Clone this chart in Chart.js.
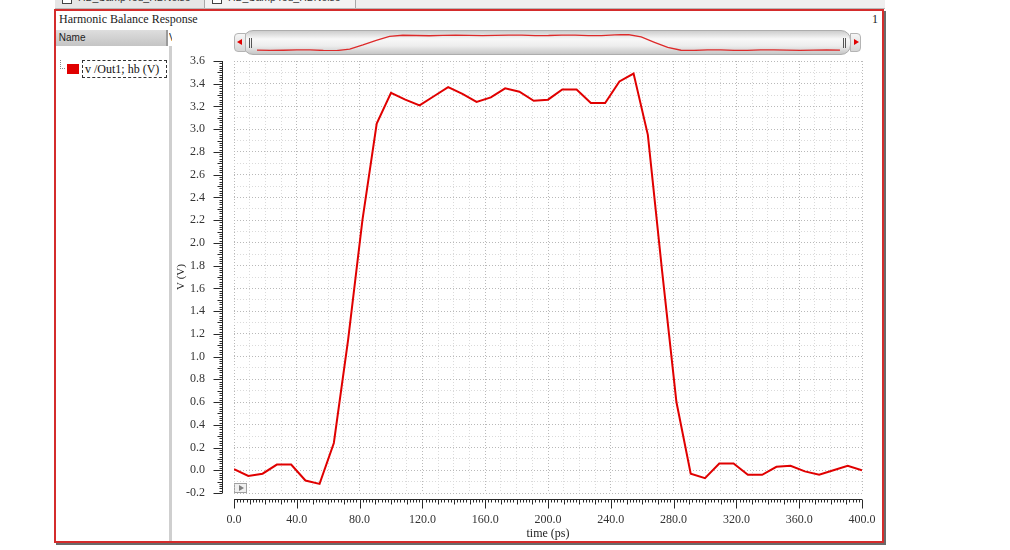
<!DOCTYPE html>
<html>
<head>
<meta charset="utf-8">
<title>Harmonic Balance Response</title>
<script src="https://cdn.jsdelivr.net/npm/chart.js@4.4.1/dist/chart.umd.min.js"></script>
<style>
  body { margin: 0; width: 1010px; height: 550px; background: #fff; overflow: hidden; position: relative; font-family: "Liberation Serif", serif; }
  .abs { position: absolute; }
  #tabs { left: 55px; top: 0; width: 830px; height: 8px; background: #efefef; border-bottom: 1px solid #b8b8b8; overflow: hidden; }
  .tab { position: absolute; top: 0; height: 8px; border-right: 1px solid #a8a8a8; overflow: hidden; font: 10.5px "Liberation Sans", sans-serif; color: #333; }
  .tab .ic { position: absolute; left: 7px; top: -6px; width: 8px; height: 8px; border: 1px solid #444; background: #fff; }
  .tab .tx { position: absolute; left: 23px; top: -9px; white-space: nowrap; }
  .tab .x { position: absolute; top: -10px; color: #777; }
  #frame { left: 54px; top: 9px; width: 830px; height: 534px; border: 2px solid #d42c2c; box-sizing: border-box; box-shadow: 2px 2px 0 #6a6a6a; }
  #title { left: 59px; top: 12px; font-size: 12px; color: #222; }
  #pnum { left: 872px; top: 12px; font-size: 12px; color: #222; }
  #hdr { left: 56px; top: 30px; width: 112px; height: 16px; background: linear-gradient(#dedede, #c4c4c4); font: 10px "Liberation Sans", sans-serif; color: #222; line-height: 16px; }
  #hdrsep { left: 166px; top: 30px; width: 2px; height: 16px; background: #9a9a9a; }
  #hdrv { left: 169px; top: 30px; width: 3px; height: 16px; overflow: hidden; font: 10px "Liberation Sans", sans-serif; line-height: 16px; color: #222; }
  #pdiv { left: 169px; top: 46px; width: 3px; height: 495px; background: #cfcfcf; }
  #tree { left: 60px; top: 60px; width: 4px; height: 8px; border-left: 1px dotted #888; border-bottom: 1px dotted #888; }
  #swatch { left: 67px; top: 64px; width: 12px; height: 10px; background: #e00000; }
  #lgtext { left: 82px; top: 60px; width: 85px; height: 18px; box-sizing: border-box; border: 1px dashed #333; font-size: 12px; line-height: 16px; padding-left: 2px; color: #111; white-space: nowrap; }
  #ovl { left: 234px; top: 33px; width: 12px; height: 19px; box-sizing: border-box; border: 1px solid #b4b4b4; border-radius: 4px 0 0 4px; background: linear-gradient(#f6f6f6, #d6d6d6); }
  #ovr { left: 850px; top: 33px; width: 11px; height: 19px; box-sizing: border-box; border: 1px solid #b4b4b4; border-radius: 0 4px 4px 0; background: linear-gradient(#f6f6f6, #d6d6d6); }
  .triL { position: absolute; left: 2px; top: 5px; width: 0; height: 0; border-top: 3px solid transparent; border-bottom: 3px solid transparent; border-right: 5px solid #e00000; }
  .triR { position: absolute; left: 3px; top: 5px; width: 0; height: 0; border-top: 3px solid transparent; border-bottom: 3px solid transparent; border-left: 5px solid #e00000; }
  #ov { left: 243px; top: 30px; width: 608px; height: 25px; box-sizing: border-box; border: 1px solid #adadad; border-radius: 10px; background: linear-gradient(#cdcdcd, #f8f8f8 35%, #ededed 65%, #c6c6c6); }
  .grip { position: absolute; top: 7px; width: 1px; height: 10px; background: #555; }
  #play { left: 234px; top: 483px; width: 13px; height: 10px; box-sizing: border-box; border: 1px solid #a0a0a0; background: #f0f0f0; }
  #play .t { position: absolute; left: 4px; top: 1px; width: 0; height: 0; border-top: 3px solid transparent; border-bottom: 3px solid transparent; border-left: 5px solid #808080; }
  #mainCanvas { position: absolute; left: 0; top: 0; z-index: 5; }
  #miniCanvas { position: absolute; left: 250px; top: 30px; z-index: 6; }
</style>
</head>
<body>
<div id="tabs" class="abs">
  <div class="tab" style="left:0;width:149px;background:#e6e6e6;"><div class="ic"></div><div class="tx">HB_Samp4ed_HBNoise</div><div class="x" style="left:132px;">×</div></div>
  <div class="tab" style="left:150px;width:150px;background:#f3f3f3;"><div class="ic"></div><div class="tx">HB_Samp4ed_HBNoise</div><div class="x" style="left:135px;">×</div></div>
</div>
<div id="frame" class="abs"></div>
<div id="title" class="abs">Harmonic Balance Response</div>
<div id="pnum" class="abs">1</div>
<div id="hdr" class="abs">&nbsp;Name</div>
<div id="hdrsep" class="abs"></div>
<div id="hdrv" class="abs">V</div>
<div id="pdiv" class="abs"></div>
<div id="tree" class="abs"></div>
<div id="swatch" class="abs"></div>
<div id="lgtext" class="abs">v /Out1; hb (V)</div>
<div id="ov" class="abs"><div class="grip" style="left:5px"></div><div class="grip" style="left:7px"></div><div class="grip" style="left:599px"></div><div class="grip" style="left:601px"></div></div>
<div id="ovl" class="abs"><div class="triL"></div></div>
<div id="ovr" class="abs"><div class="triR"></div></div>
<div id="play" class="abs"><div class="t"></div></div>
<canvas id="mainCanvas" width="1010" height="550"></canvas>
<canvas id="miniCanvas" width="598" height="26"></canvas>
<script>
// sample times (ps) and voltage at Out1
const times = [0, 9.1, 18.2, 27.3, 36.4, 45.5, 54.5, 63.6, 72.7, 81.8,
  90.9, 100.0, 109.1, 118.2, 127.3, 136.4, 145.5, 154.5, 163.6, 172.7,
  181.8, 190.9, 200.0, 209.1, 218.2, 227.3, 236.4, 245.5, 254.5, 263.6,
  272.7, 281.8, 290.9, 300.0, 309.1, 318.2, 327.3, 336.4, 345.5, 354.5,
  363.6, 372.7, 381.8, 390.9, 400.0];
const voltages = [0.01, -0.05, -0.03, 0.05, 0.05, -0.09, -0.12, 0.24, 1.15, 2.2,
  3.05, 3.32, 3.26, 3.21, 3.29, 3.37, 3.31, 3.24, 3.28, 3.36,
  3.33, 3.25, 3.26, 3.35, 3.35, 3.23, 3.23, 3.42, 3.49, 2.95,
  1.75, 0.6, -0.03, -0.07, 0.06, 0.06, -0.04, -0.04, 0.03, 0.04,
  -0.01, -0.04, 0.0, 0.04, 0.0];
const xLabelValues = [0, 40, 80, 120, 160, 200, 240, 280, 320, 360, 400];
const yLabelValues = [-0.2, 0, 0.2, 0.4, 0.6, 0.8, 1.0, 1.2, 1.4, 1.6, 1.8, 2.0, 2.2, 2.4, 2.6, 2.8, 3.0, 3.2, 3.4, 3.6];

const lineRed = '#e00000';
const gridMajor = '#b9b9b9';
const gridMinor = '#dadada';
const tickFont = { family: 'Liberation Serif', size: 12 };

const pts = times.map((t, i) => ({ x: t, y: voltages[i] }));

function isLabel(list, v) {
  return list.some(l => Math.abs(l - v) < 1e-6);
}

// ruler style axes drawn a little away from the plot, like the simulator does
const rulerAxes = {
  id: 'rulerAxes',
  afterDraw(chart) {
    const { ctx, chartArea: a } = chart;
    const x = chart.scales.x, y = chart.scales.y;
    ctx.save();
    ctx.strokeStyle = '#2a2a2a';
    ctx.lineWidth = 1;
    ctx.beginPath();
    const ax = a.left - 12 + 0.5;
    ctx.moveTo(ax, a.top);
    ctx.lineTo(ax, a.bottom);
    for (let k = -10; k <= 180; k++) {
      const py = Math.round(y.getPixelForValue(k / 50)) + 0.5;
      const len = k % 10 === 0 ? 9 : (k % 5 === 0 ? 5 : 3);
      ctx.moveTo(ax, py);
      ctx.lineTo(ax - len, py);
    }
    const ay = a.bottom + 6 + 0.5;
    ctx.moveTo(a.left, ay);
    ctx.lineTo(a.right, ay);
    for (let k = 0; k <= 200; k++) {
      const px = Math.round(x.getPixelForValue(k * 2)) + 0.5;
      const len = k % 20 === 0 ? 9 : (k % 5 === 0 ? 5 : 3);
      ctx.moveTo(px, ay);
      ctx.lineTo(px, ay + len);
    }
    ctx.stroke();
    ctx.restore();
  }
};

new Chart(document.getElementById('mainCanvas'), {
  type: 'line',
  data: {
    datasets: [{
      label: 'v /Out1; hb (V)',
      data: pts,
      borderColor: lineRed,
      borderWidth: 2,
      pointRadius: 0,
      tension: 0,
      fill: false
    }]
  },
  options: {
    responsive: false,
    animation: false,
    layout: { padding: { left: 172, right: 148, top: 61, bottom: 8 } },
    plugins: { legend: { display: false }, tooltip: { enabled: false } },
    scales: {
      x: {
        type: 'linear', min: 0, max: 400,
        afterFit(s) { s.height = 49; },
        grid: { drawTicks: false, color: c => isLabel(xLabelValues, c.tick.value) ? gridMajor : gridMinor },
        border: { display: false, dash: [1, 2] },
        ticks: {
          stepSize: 10, autoSkip: false, maxRotation: 0, padding: 20,
          color: '#333', font: tickFont,
          callback: v => isLabel(xLabelValues, v) ? v.toFixed(1) : ''
        },
        title: { display: true, text: 'time (ps)', color: '#222', font: tickFont, padding: { top: 0, bottom: 1 } }
      },
      y: {
        min: -0.2, max: 3.6,
        afterFit(s) { s.width = 62; },
        grid: { drawTicks: false, color: c => isLabel(yLabelValues, c.tick.value) ? gridMajor : gridMinor },
        border: { display: false, dash: [1, 2] },
        ticks: {
          stepSize: 0.1, autoSkip: false, padding: 29,
          color: '#333', font: tickFont,
          callback: v => isLabel(yLabelValues, v) ? v.toFixed(1) : ''
        },
        title: { display: true, text: 'V (V)', color: '#222', font: { family: 'Liberation Serif', size: 11 }, padding: { top: 3, bottom: 0 } }
      }
    }
  },
  plugins: [rulerAxes]
});

// overview strip at the top
new Chart(document.getElementById('miniCanvas'), {
  type: 'line',
  data: { datasets: [{ data: pts, borderColor: '#dd2a2a', borderWidth: 1.3, pointRadius: 0, tension: 0 }] },
  options: {
    responsive: false,
    animation: false,
    layout: { padding: { left: 7, right: 8, top: 4, bottom: 5 } },
    plugins: { legend: { display: false }, tooltip: { enabled: false } },
    scales: {
      x: { type: 'linear', min: 0, max: 400, display: false },
      y: { min: -0.2, max: 3.6, display: false }
    }
  }
});
</script>
</body>
</html>
